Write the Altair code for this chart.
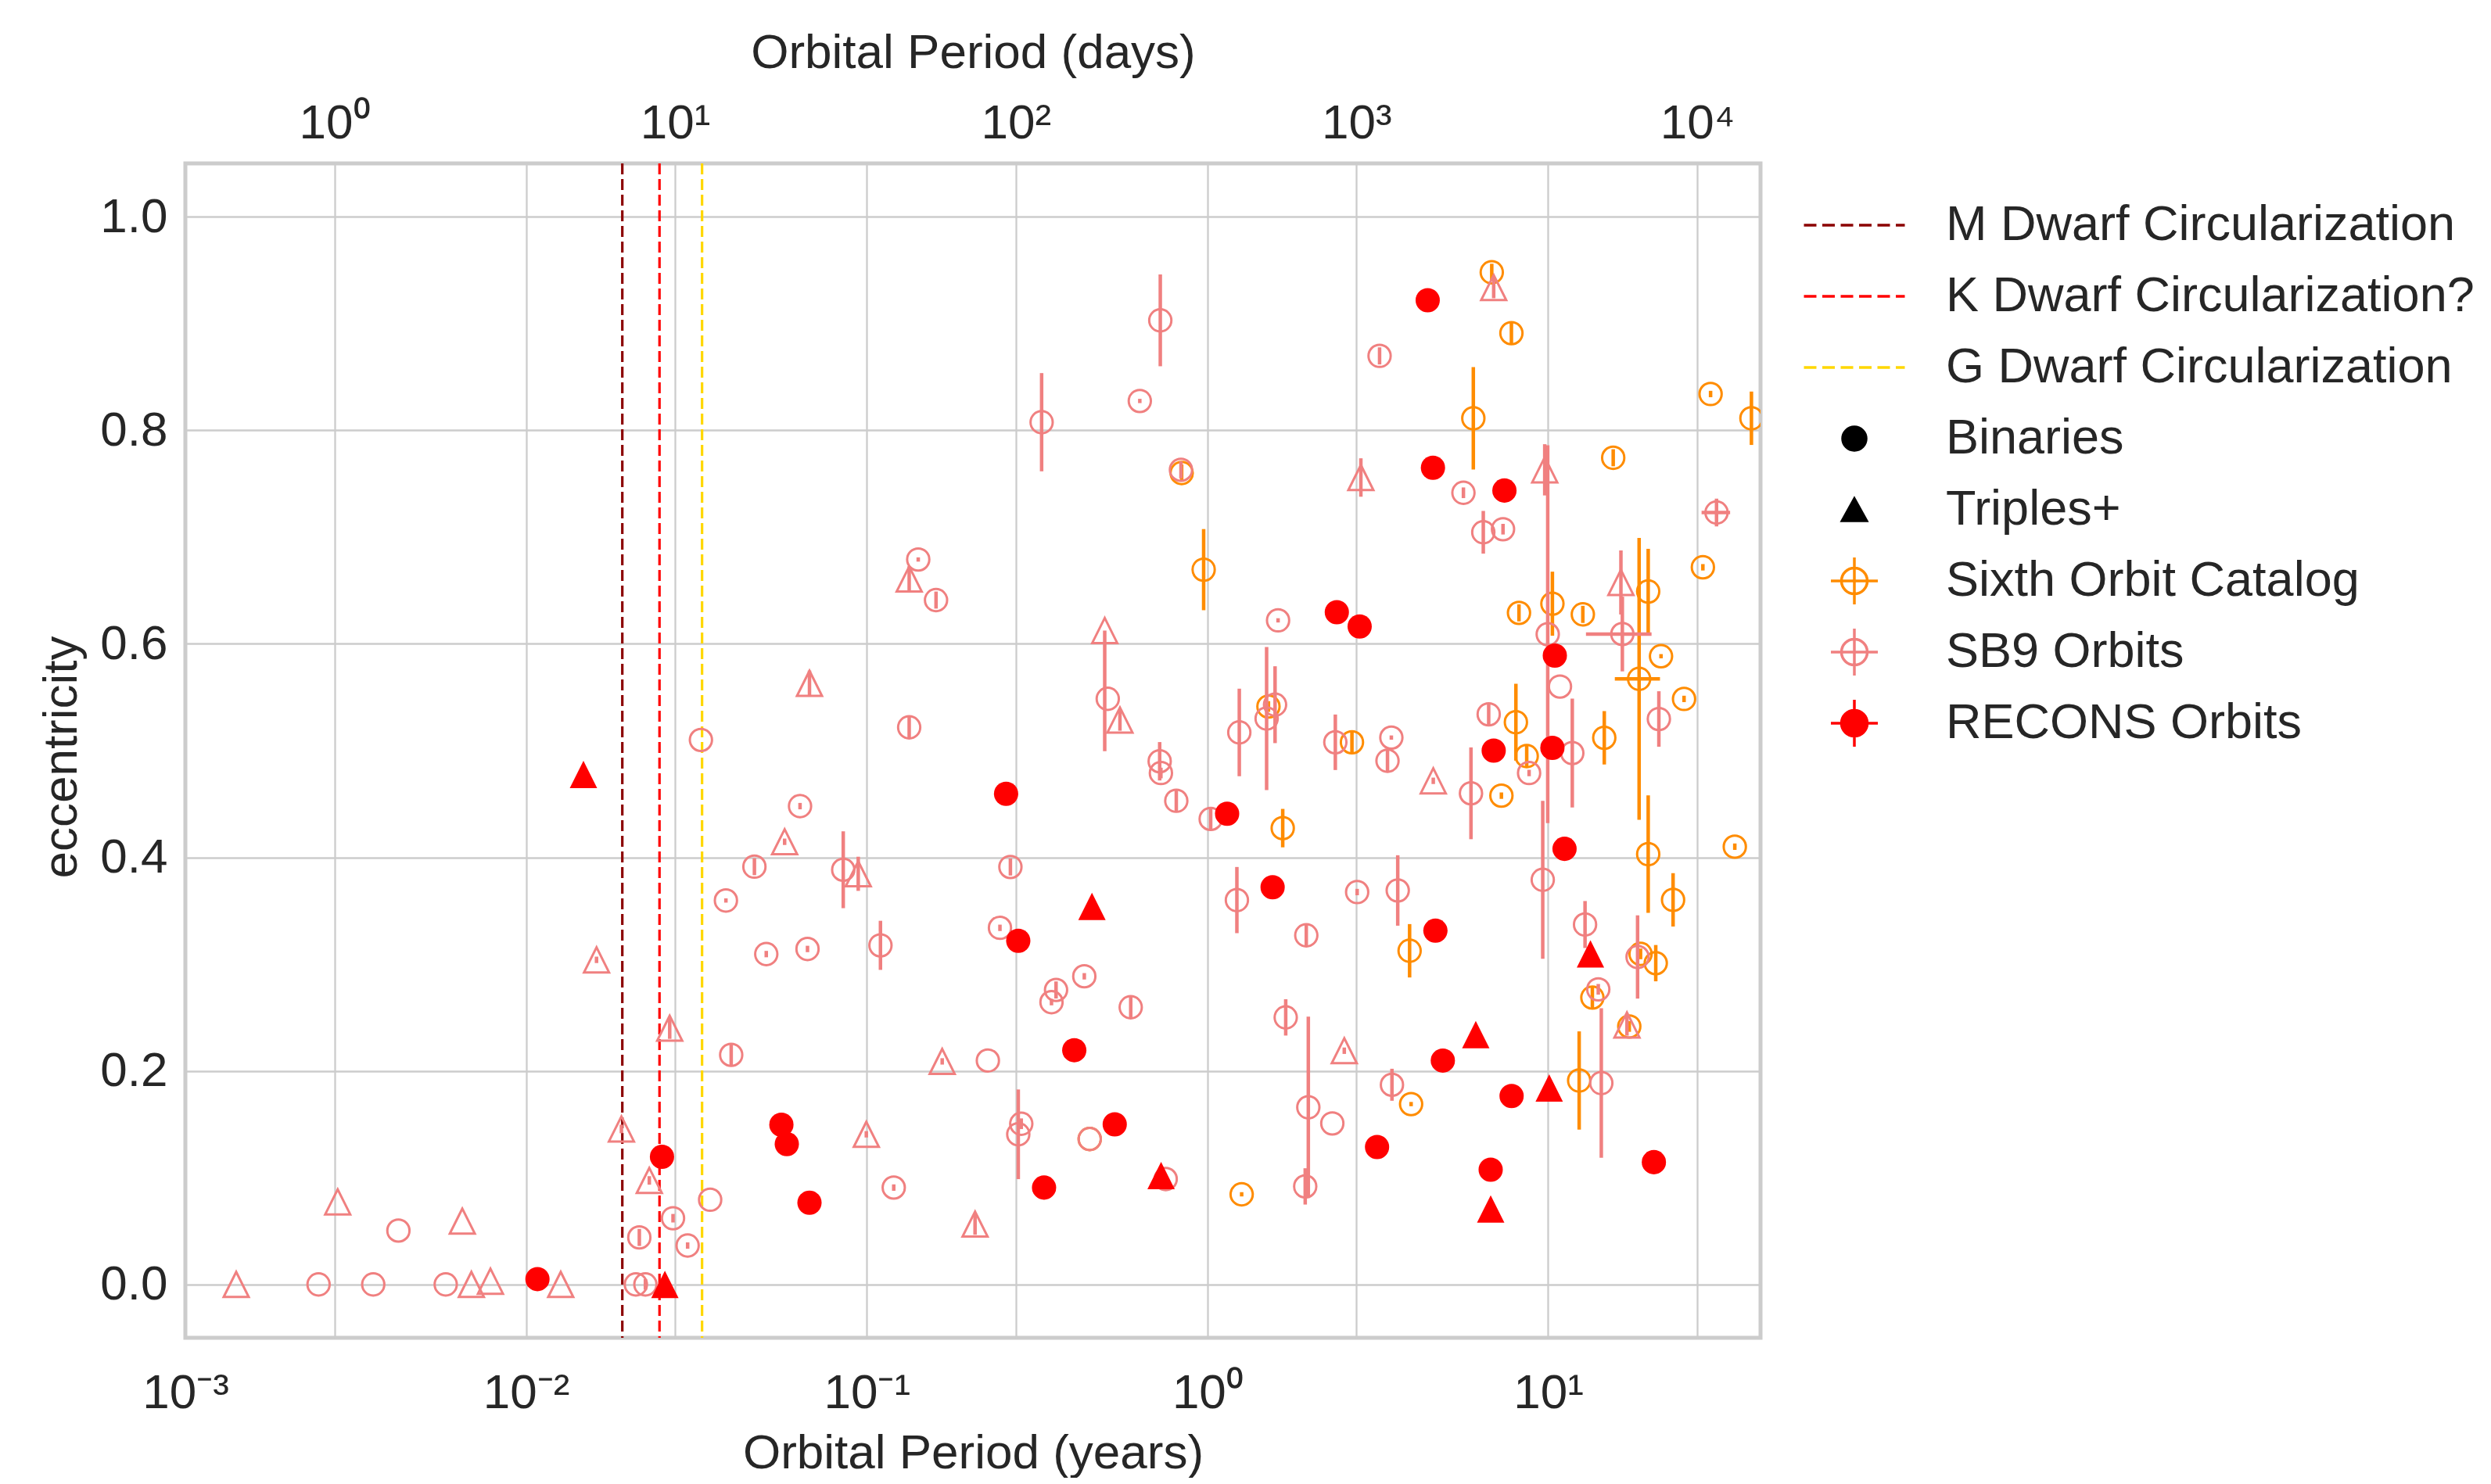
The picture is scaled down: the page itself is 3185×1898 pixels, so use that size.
import math
import altair as alt
import pandas as pd

# ---------------- data ----------------
CIRC_LABELS = ["M Dwarf Circularization", "K Dwarf Circularization?", "G Dwarf Circularization"]
CIRC_DAYS = [7.0, 9.0, 12.0]
CIRC_COLORS = ["#8b0000", "#ff0000", "#ffd700"]

# Sixth Orbit Catalog (period in years, eccentricity, ecc. error, period error)
SIXTH_PERIOD = [0.84, 0.9745, 1.663, 1.51, 0.4512, 1.26, 3.96, 12.33, 13.48, 17.3,
                2.655, 8.65, 7.29, 8.04, 3.92, 18.67, 20.69, 19.66, 23.26, 35.3,
                25.05, 21.44, 18.49, 19.66, 8.21, 10.29, 12.64, 28.45, 29.97, 39.5,
                15.52, 6.03, 6.83, 7.8, 14.61]
SIXTH_ECC = [0.760, 0.6695, 0.4274, 0.5413, 0.1362, 0.0844, 0.1689, 0.191, 0.2687, 0.2416,
             0.5078, 0.4949, 0.4578, 0.5266, 0.3125, 0.3096, 0.3009, 0.403, 0.3602, 0.41,
             0.5484, 0.5884, 0.5672, 0.649, 0.629, 0.6376, 0.6276, 0.6717, 0.834, 0.8113,
             0.7743, 0.8113, 0.948, 0.891, 0.512]
SIXTH_ECC_ERR = [0.008, 0.038, 0.018, 0.005, 0.0, 0.002, 0.002, 0.046, 0.01, 0.005,
                 0.01, 0.01, 0.003, 0.036, 0.025, 0.005, 0.017, 0.055, 0.025, 0.003,
                 0.003, 0.002, 0.132, 0.04, 0.008, 0.03, 0.008, 0.003, 0.003, 0.025,
                 0.008, 0.048, 0.008, 0.01, 0.025]
SIXTH_PERIOD_ERR = [0, 0, 0, 0, 0, 0, 0, 0, 0, 0,
                    0, 0, 0, 0, 0, 0, 0, 0, 0, 0,
                    0, 0, 2.8, 0, 0, 0, 0, 0, 0, 0,
                    0, 0, 0, 0, 0]

# SB9 Orbits
SB9_PERIOD = [0.00141, 0.00246, 0.00356, 0.00581, 0.00691, 0.00786, 0.01264, 0.0210, 0.0224, 0.00280,
              0.00422, 0.0065, 0.01905, 0.0230, 0.0270, 0.0215, 0.0298, 0.0347, 0.0264, 0.0400,
              0.0161, 0.0326, 0.0679, 0.0637, 0.0574, 0.0468, 0.0386, 0.0507, 0.0670, 0.0853,
              0.0944, 0.1097, 0.1416, 0.1332, 0.1597, 0.1332, 0.326, 0.633, 0.836, 0.727,
              0.4994, 0.5097, 0.5535, 0.724, 0.730, 0.810, 1.022, 1.6115, 1.24, 1.4915,
              1.579, 0.264, 0.246, 1.22, 0.435, 0.3594, 0.3485, 0.5953, 0.1665, 0.2267,
              1.697, 0.0997, 0.2841, 0.2784, 0.4512, 0.120, 0.2079, 0.754, 1.977, 1.936,
              2.325, 2.521, 3.479, 14.32, 14.03, 17.03, 1.95, 2.75, 3.618, 12.83,
              18.3, 9.64, 11.77, 8.79, 5.935, 6.69, 4.6, 3.465, 3.376, 2.373,
              10.83, 9.97, 9.77, 21.13, 16.51, 16.35, 31.2, 6.45, 7.37, 5.64,
              2.82, 3.2, 6.92]
SB9_ECC = [0.0, 0.0, 0.0, 0.0, 0.0, 0.003, 0.0, 0.0, 0.0, 0.0773,
           0.0504, 0.0593, 0.1456, 0.0974, 0.062, 0.044, 0.0364, 0.0793, 0.24, 0.215,
           0.304, 0.510, 0.563, 0.448, 0.4146, 0.3913, 0.3596, 0.3094, 0.3142, 0.3884,
           0.3846, 0.3176, 0.679, 0.6607, 0.641, 0.5218, 0.8076, 0.8275, 0.763, 0.903,
           0.6125, 0.5485, 0.5286, 0.49, 0.479, 0.453, 0.436, 0.622, 0.517, 0.530,
           0.543, 0.391, 0.334, 0.360, 0.2886, 0.2758, 0.2644, 0.2596, 0.2089, 0.2097,
           0.2501, 0.1406, 0.1505, 0.1406, 0.1362, 0.0907, 0.0565, 0.0987, 0.1659, 0.0918,
           0.1508, 0.2189, 0.187, 0.1886, 0.2764, 0.243, 0.327, 0.3675, 0.369, 0.3371,
           0.3067, 0.379, 0.4977, 0.479, 0.46, 0.534, 0.4717, 0.5122, 0.4905, 0.5078,
           0.56, 0.609, 0.763, 0.5296, 0.6092, 0.6575, 0.723, 0.7045, 0.7074, 0.7415,
           0.7558, 0.8697, 0.9337]
SB9_ECC_ERR_LOW = [0, 0, 0, 0, 0, 0, 0, 0, 0.005, 0,
                   0, 0, 0.004, 0.004, 0.004, 0.008, 0.003, 0, 0.01, 0.01,
                   0.003, 0, 0.012, 0.003, 0.003, 0.008, 0.002, 0.003, 0.003, 0.036,
                   0.016, 0.023, 0.002, 0.012, 0.008, 0.01, 0.046, 0.002, 0.008, 0.043,
                   0.113, 0, 0.01, 0.018, 0.005, 0.01, 0.01, 0.002, 0.041, 0.067,
                   0.036, 0.008, 0.003, 0.031, 0.003, 0.008, 0.003, 0.01, 0.003, 0,
                   0.017, 0.003, 0.005, 0.042, 0, 0.003, 0.01, 0.003, 0.085, 0.017,
                   0, 0.003, 0.015, 0.07, 0.005, 0.01, 0.01, 0.003, 0.033, 0.022,
                   0.039, 0.074, 0.051, 0.003, 0.043, 0.01, 0.003, 0.002, 0.01, 0.026,
                   0, 0.177, 0.024, 0.026, 0.035, 0.03, 0.013, 0.02, 0.005, 0.005,
                   0.018, 0.008, 0.01]
SB9_ECC_ERR_HIGH = [0, 0, 0, 0, 0, 0, 0, 0, 0.005, 0,
                    0, 0, 0.004, 0.004, 0.004, 0.008, 0.003, 0, 0.01, 0.01,
                    0.003, 0, 0.012, 0.003, 0.003, 0.008, 0.002, 0.003, 0.003, 0.036,
                    0.016, 0.023, 0.002, 0.012, 0.008, 0.01, 0.046, 0.002, 0.008, 0.043,
                    0.0, 0, 0.01, 0.018, 0.005, 0.01, 0.01, 0.002, 0.041, 0.067,
                    0.036, 0.008, 0.003, 0.031, 0.003, 0.008, 0.003, 0.01, 0.003, 0,
                    0.017, 0.003, 0.005, 0.042, 0, 0.003, 0.01, 0.003, 0.085, 0.017,
                    0, 0.003, 0.015, 0.07, 0.005, 0.01, 0.01, 0.003, 0.033, 0.022,
                    0.039, 0.074, 0.051, 0.003, 0.043, 0.01, 0.003, 0.002, 0.01, 0.026,
                    0, 0.177, 0.024, 0.026, 0.035, 0.03, 0.013, 0.02, 0.005, 0.005,
                    0.018, 0.008, 0.01]
SB9_PERIOD_ERR = [0] * 94 + [3.6, 0, 3.0] + [0] * 6
SB9_KIND = ["T", "B", "B", "B", "T", "T", "T", "B", "B", "T",
            "B", "T", "T", "T", "B", "B", "B", "B", "T", "B",
            "T", "B", "T", "B", "T", "B", "B", "B", "B", "B",
            "T", "B", "B", "T", "B", "B", "B", "B", "B", "B",
            "T", "B", "T", "B", "B", "B", "B", "B", "B", "B",
            "B", "B", "B", "B", "B", "B", "B", "B", "T", "B",
            "B", "T", "B", "B", "B", "B", "T", "B", "B", "B",
            "B", "T", "B", "B", "B", "T", "B", "B", "B", "B",
            "B", "B", "B", "B", "B", "B", "T", "B", "B", "B",
            "B", "B", "T", "B", "B", "T", "B", "B", "B", "B",
            "T", "B", "T"]

# RECONS Orbits
RECONS_PERIOD = [0.0108, 0.02506, 0.05616, 0.05825, 0.0679, 0.2564, 0.2784, 0.3314, 0.4065, 0.5343,
                 1.142, 1.553, 2.397, 2.797, 3.146, 4.907, 4.667, 4.43, 4.59, 7.44,
                 6.92, 10.29, 10.46, 11.17, 7.81, 6.78, 20.43,
                 0.01474, 0.02555, 0.4581, 0.731, 6.13, 10.07, 13.31, 6.78]
RECONS_ECC = [0.005, 0.1195, 0.1496, 0.1315, 0.0765, 0.4596, 0.3219, 0.0907, 0.2194, 0.1499,
              0.4408, 0.372, 0.6296, 0.6162, 0.1287, 0.2097, 0.3313, 0.9218, 0.7649, 0.7436,
              0.50, 0.5026, 0.589, 0.408, 0.1765, 0.1075, 0.1145,
              0.4777, 0.0, 0.3541, 0.102, 0.234, 0.184, 0.3096, 0.0706]
RECONS_KIND = ["B"] * 27 + ["T"] * 8

LEGEND_LABELS = ["M Dwarf Circularization", "K Dwarf Circularization?", "G Dwarf Circularization",
                 "Binaries", "Triples+", "Sixth Orbit Catalog", "SB9 Orbits", "RECONS Orbits"]
LEGEND_STROKES = ["#8b0000", "#ff0000", "#ffd700", "black", "black", "#ff8c00", "#f08080", "#ff0000"]
LEGEND_FILLS = ["transparent", "transparent", "transparent", "black", "black",
                "transparent", "transparent", "#ff0000"]

YEAR_TICKS = [0.001, 0.01, 0.1, 1, 10]
YEAR_TICK_LABELS = ["10⁻³", "10⁻²", "10⁻¹", "10⁰", "10¹"]
DAY_TICKS = [1, 10, 100, 1000, 10000]
DAY_TICK_LABELS = ["10⁰", "10¹", "10²", "10³", "10⁴"]
ECC_TICKS = [0.0, 0.2, 0.4, 0.6, 0.8, 1.0]

YEAR_DOMAIN = [0.001, 42.0]
ECC_DOMAIN = [-0.05, 1.05]
DAYS_PER_YEAR = 365.25

# ---------------- style ----------------
FONT = "Liberation Sans"
TEXT = "#262626"
GRID = "#cccccc"
FS = 62
W, H = 2014, 1502
ORANGE, CORAL, RED = "#ff8c00", "#f08080", "#ff0000"
TRI = "M0,-1L-1,1L1,1Z"


def log_label_expr(vals, labels):
    expr = "''"
    for v, lab in reversed(list(zip(vals, labels))):
        expr = f"abs(log(datum.value)/LN10 - ({math.log10(v)})) < 0.01 ? '{lab}' : " + expr
    return expr


X_SCALE = alt.Scale(type="log", domain=YEAR_DOMAIN, nice=False)
D_SCALE = alt.Scale(type="log", domain=[YEAR_DOMAIN[0] * DAYS_PER_YEAR, YEAR_DOMAIN[1] * DAYS_PER_YEAR], nice=False)
Y_SCALE = alt.Scale(domain=ECC_DOMAIN, zero=False, nice=False)

common_axis = dict(grid=True, gridColor=GRID, gridWidth=2.3, ticks=False, tickSize=0, domain=False,
                   labelFont=FONT, labelFontSize=FS, labelColor=TEXT, labelFlush=False,
                   labelOverlap=False, labelBound=False, titleFont=FONT, titleFontSize=FS,
                   titleColor=TEXT, titleFontWeight="normal")

X_AXIS = alt.Axis(orient="bottom", values=YEAR_TICKS, labelExpr=log_label_expr(YEAR_TICKS, YEAR_TICK_LABELS),
                  labelPadding=89, labelBaseline="alphabetic", title="Orbital Period (years)",
                  titleX=W / 2, titleY=166, titleBaseline="alphabetic", titleAlign="center", **common_axis)
TOP_AXIS = alt.Axis(orient="top", values=DAY_TICKS, labelExpr=log_label_expr(DAY_TICKS, DAY_TICK_LABELS),
                    labelPadding=33, labelBaseline="alphabetic", title="Orbital Period (days)",
                    titleX=W / 2, titleY=-123, titleBaseline="alphabetic", titleAlign="center", **common_axis)
Y_AXIS = alt.Axis(orient="left", values=ECC_TICKS, format=".1f", labelPadding=23, title="eccentricity",
                  titleX=-140, titleY=759, titleAngle=270, titleBaseline="alphabetic", titleAlign="center",
                  **common_axis)


def X(field):
    return alt.X(field, type="quantitative", scale=X_SCALE, axis=X_AXIS)


def Y(field):
    return alt.Y(field, type="quantitative", scale=Y_SCALE, axis=Y_AXIS)


def catalog_layers(df, color, filled):
    layers = []
    if "dn" in df:
        eb = df[(df["dn"] > 0) | (df["up"] > 0)].copy()
        eb["lo"] = eb["e"] - eb["dn"]
        eb["hi"] = eb["e"] + eb["up"]
        if len(eb):
            layers.append(alt.Chart(eb).mark_rule(color=color, strokeWidth=4.5, clip=True, opacity=1).encode(
                x=X("P"), y=Y("lo"), y2="hi"))
    if "perr" in df:
        hb = df[df["perr"] > 0].copy()
        hb["plo"] = hb["P"] - hb["perr"]
        hb["phi"] = hb["P"] + hb["perr"]
        if len(hb):
            layers.append(alt.Chart(hb).mark_rule(color=color, strokeWidth=4.5, clip=True, opacity=1).encode(
                x=X("plo"), x2="phi", y=Y("e")))
    for kind, shape in (("B", "circle"), ("T", TRI)):
        sub = df[df["kind"] == kind]
        if not len(sub):
            continue
        if filled:
            size = 962 if kind == "B" else 1225
            mk = alt.Chart(sub).mark_point(shape=shape, filled=True, size=size, color=color,
                                           opacity=1, strokeWidth=0, clip=True)
        else:
            size = 804 if kind == "B" else 1024
            mk = alt.Chart(sub).mark_point(shape=shape, filled=False, size=size, color=color,
                                           opacity=1, strokeWidth=3, clip=True)
        layers.append(mk.encode(x=X("P"), y=Y("e")))
    return layers


sixth = pd.DataFrame({"P": SIXTH_PERIOD, "e": SIXTH_ECC, "dn": SIXTH_ECC_ERR, "up": SIXTH_ECC_ERR,
                      "perr": SIXTH_PERIOD_ERR, "kind": ["B"] * len(SIXTH_PERIOD)})
sb9 = pd.DataFrame({"P": SB9_PERIOD, "e": SB9_ECC, "dn": SB9_ECC_ERR_LOW, "up": SB9_ECC_ERR_HIGH,
                    "perr": SB9_PERIOD_ERR, "kind": SB9_KIND})
recons = pd.DataFrame({"P": RECONS_PERIOD, "e": RECONS_ECC, "kind": RECONS_KIND})

# legend symbols (unit = sqrt(symbolSize)/2 px); invisible zero-length ends give every row the same height
PAD = "M0,-1L0,-1M0,1L0,1"
dash_segments = [(-2.15, -1.617), (-1.367, -0.833), (-0.583, -0.05), (0.2, 0.733), (0.983, 1.517), (1.767, 2.15)]
LINE_PATH = "".join(f"M{a},0H{b}" for a, b in dash_segments) + PAD
DOT_PATH = "M0.5,0A0.5,0.5,0,1,1,-0.5,0A0.5,0.5,0,1,1,0.5,0Z" + PAD
TRI_PATH = "M0,-0.47L-0.52,0.47L0.52,0.47Z" + PAD
ERR_PATH = "M-1,0H1M0,-1V1M0.55,0A0.55,0.55,0,1,1,-0.55,0A0.55,0.55,0,1,1,0.55,0Z"
LEGEND_SHAPES = [LINE_PATH, LINE_PATH, LINE_PATH, DOT_PATH, TRI_PATH, ERR_PATH, ERR_PATH, ERR_PATH]

legend_df = pd.DataFrame({"label": LEGEND_LABELS, "P": [None] * len(LEGEND_LABELS),
                          "e": [None] * len(LEGEND_LABELS)})
LEG = alt.Legend(orient="none", legendX=2102, legendY=47, padding=0, title=None,
                 symbolSize=3600, symbolStrokeWidth=3.5, labelFont=FONT, labelFontSize=63,
                 labelColor=TEXT, labelOffset=85, labelLimit=2000, rowPadding=17)
legend_layer = alt.Chart(legend_df).mark_point(filled=True, opacity=1, size=3600, strokeWidth=3.5).encode(
    x=X("P"), y=Y("e"),
    shape=alt.Shape("label:N", scale=alt.Scale(domain=LEGEND_LABELS, range=LEGEND_SHAPES), legend=LEG),
    fill=alt.Fill("label:N", scale=alt.Scale(domain=LEGEND_LABELS, range=LEGEND_FILLS), legend=LEG),
    stroke=alt.Stroke("label:N", scale=alt.Scale(domain=LEGEND_LABELS, range=LEGEND_STROKES), legend=LEG),
)

data_layers = (catalog_layers(sixth, ORANGE, False) + catalog_layers(sb9, CORAL, False)
               + catalog_layers(recons, RED, True) + [legend_layer])
inner = alt.layer(*data_layers)

circ_df = pd.DataFrame({"D": CIRC_DAYS, "name": CIRC_LABELS, "col": CIRC_COLORS})
circ_layer = alt.Chart(circ_df).mark_rule(strokeDash=[14, 6], strokeWidth=3.2, opacity=1).encode(
    x=alt.X("D:Q", scale=D_SCALE, axis=TOP_AXIS),
    color=alt.Color("col:N", scale=None),
)

chart = alt.layer(circ_layer, inner).resolve_scale(x="independent").properties(
    width=W, height=H,
    padding={"left": 229, "top": 201, "right": 926, "bottom": 179},
    autosize=alt.AutoSizeParams(type="none"),
    background="white",
).configure_view(stroke=GRID, strokeWidth=5)

chart.save("out.html", embed_options={"renderer": "svg", "actions": False})
